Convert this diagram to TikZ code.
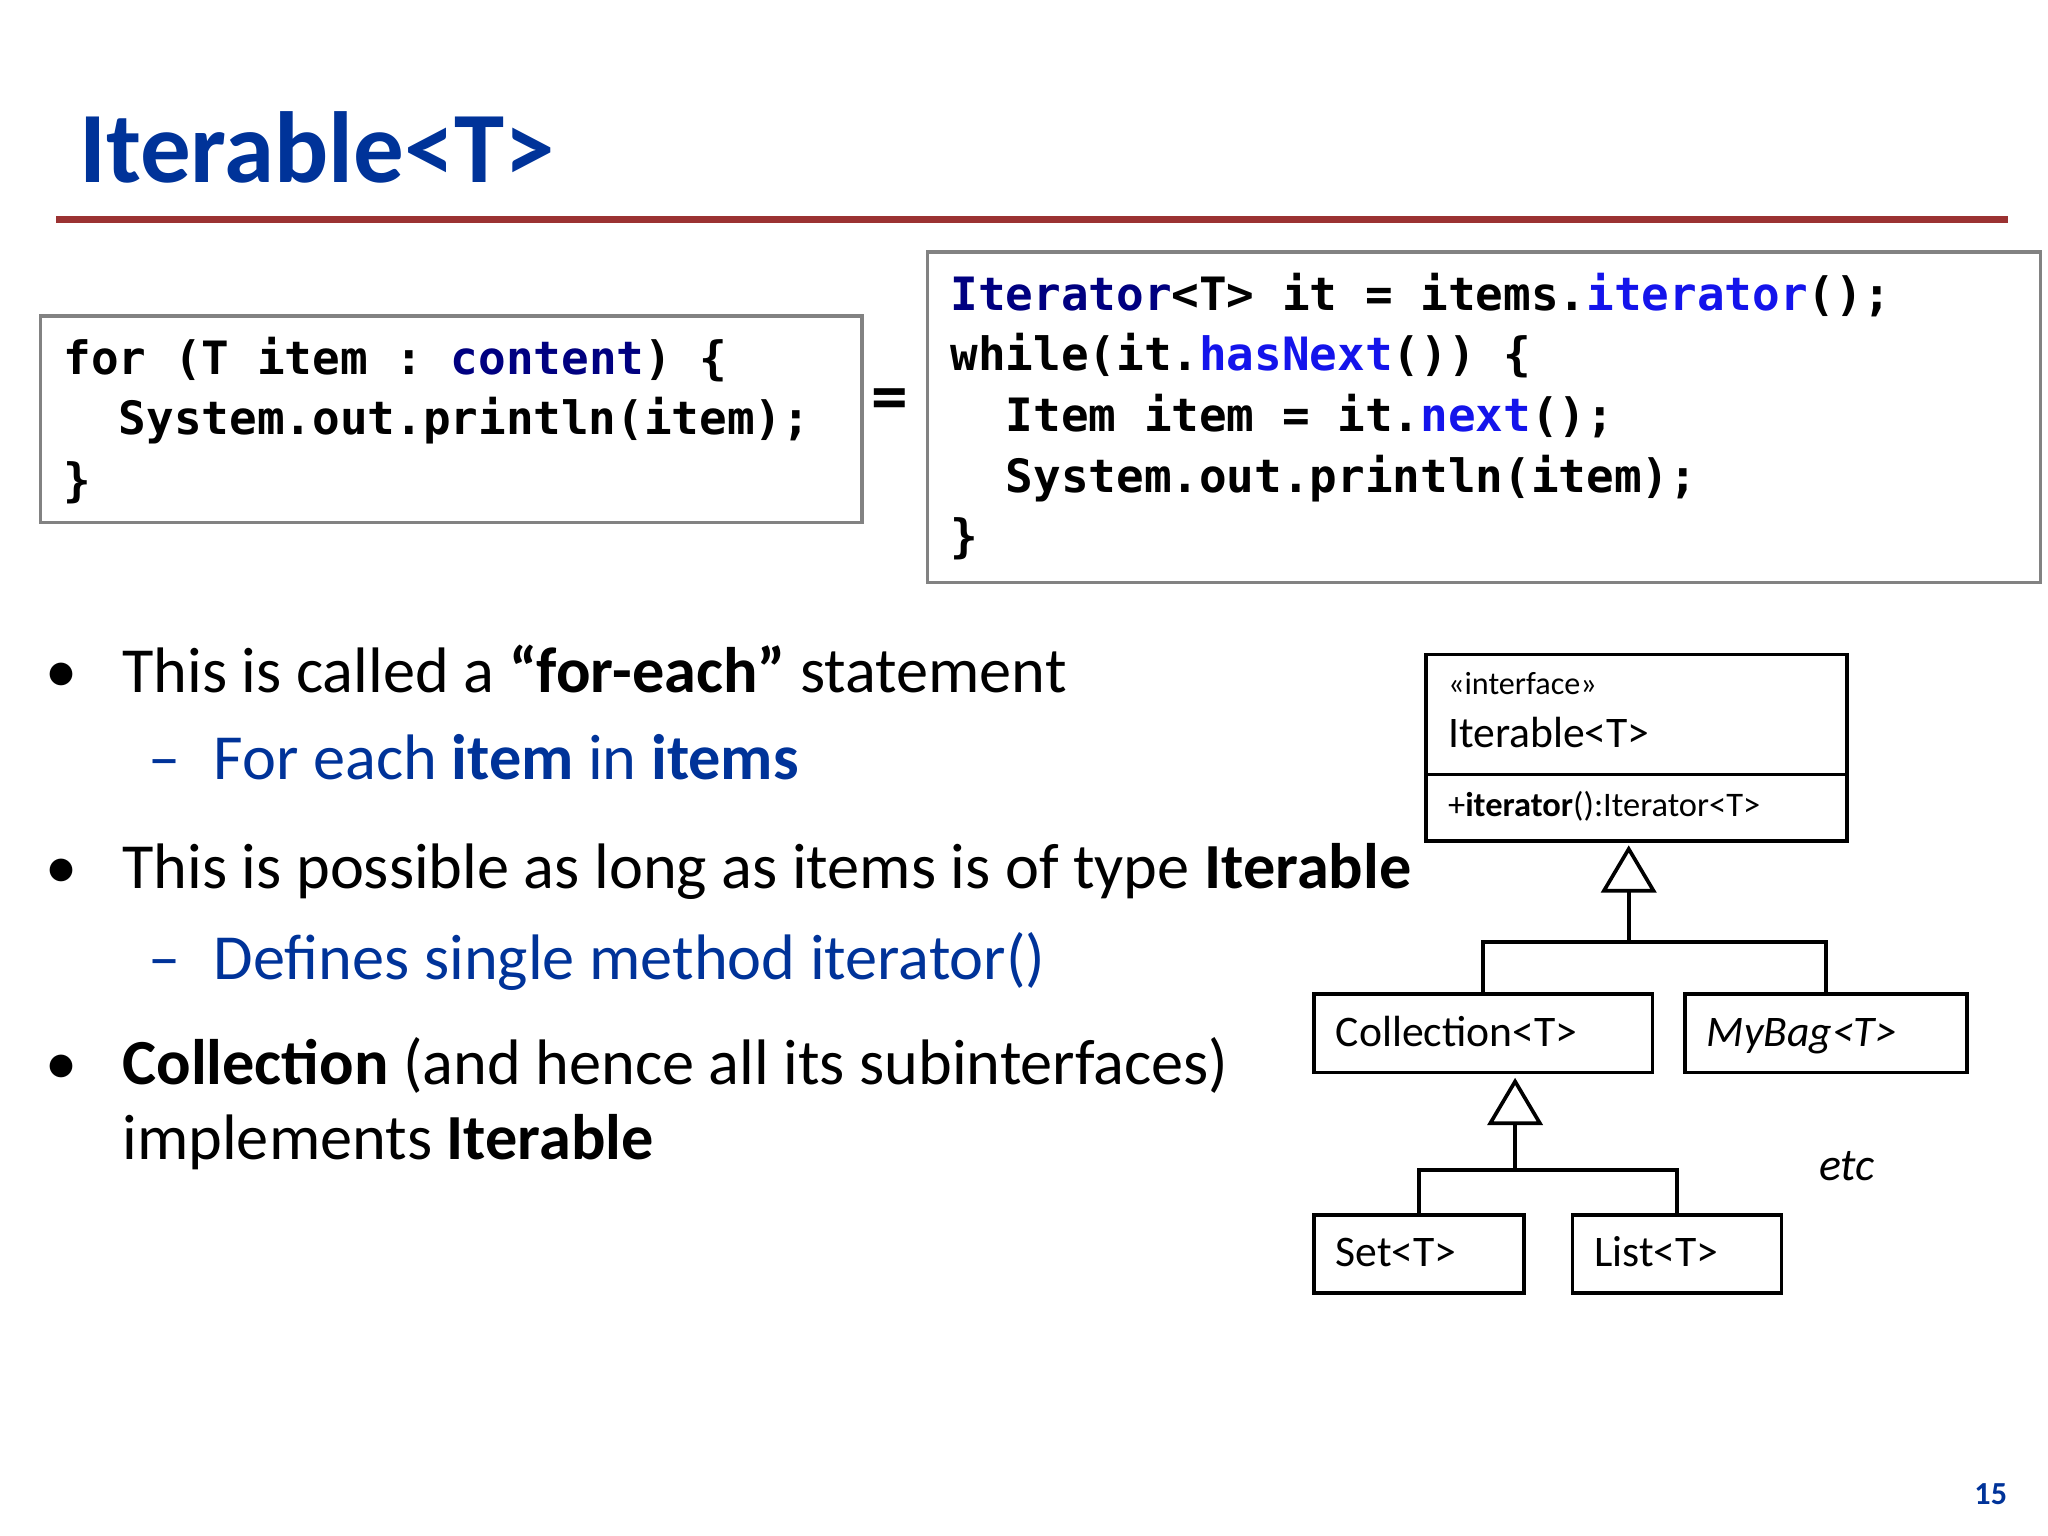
\documentclass[tikz,border=0pt]{standalone}
\usepackage{fontspec}
\setmainfont{Carlito}
\setmonofont{DejaVu Sans Mono}
\definecolor{ttl}{RGB}{0,51,153}
\definecolor{rl}{RGB}{155,50,50}
\definecolor{navy}{RGB}{0,0,128}
\definecolor{kw}{RGB}{20,20,235}
\definecolor{bx}{RGB}{130,130,130}
\begin{document}
\begin{tikzpicture}[x=0.01cm,y=-0.01cm,
  codebox/.style={draw=bx,line width=0.7pt},
  code/.style={anchor=base west,inner sep=0,font=\ttfamily\bfseries\fontsize{10}{12}\selectfont},
  txt/.style={anchor=base west,inner sep=0,font=\fontsize{14}{17}\selectfont},
  sub/.style={txt,text=ttl},
  uml/.style={draw,line width=0.8pt},
  umlt/.style={anchor=base west,inner sep=0,font=\fontsize{9.5}{11}\selectfont},
  tri/.style={draw,line width=0.8pt,fill=white}]
\useasboundingbox (0,0) rectangle (1568,1176);
\node[anchor=base west,inner sep=0,text=ttl,font=\bfseries\fontsize{22}{26}\selectfont] (title) at (60,140) {Iterable<T>};
\draw[rl,line width=1.7pt] (43,168) coordinate (r1) -- (1537,168) coordinate (r2);
% code boxes
\draw[codebox] (31,242) rectangle (660,400);
\node[code] (c1) at (48,287) {for (T item : \textcolor{navy}{content}) \{};
\node[code] (c2) at (48,333) {\ \ System.out.println(item);};
\node[code] (c3) at (48,380) {\}};
\node[inner sep=0,font=\bfseries\fontsize{16}{18}\selectfont] (eq) at (681,310) {=};
\draw[codebox] (710,193) rectangle (1562,446);
\node[code] (d1) at (727,238) {\textcolor{navy}{Iterator}<T> it = items.\textcolor{kw}{iterator}();};
\node[code] (d2) at (727,284) {while(it.\textcolor{kw}{hasNext}()) \{};
\node[code] (d3) at (727,330) {\ \ Item item = it.\textcolor{kw}{next}();};
\node[code] (d4) at (727,377) {\ \ System.out.println(item);};
\node[code] (d5) at (727,423) {\}};
% bullets
\foreach \y/\n in {530/b1,680/b2,830/b3}{\node[txt] (\n) at (34,\y) {•};}
\node[txt] (t1) at (93,530) {This is called a \textbf{“for-each”} statement};
\node[sub] (s1d) at (113,597) {–};
\node[sub] (s1) at (163,597) {For each \textbf{item} in \textbf{items}};
\node[txt] (t2) at (93,680) {This is possible as long as items is of type \textbf{Iterable}};
\node[sub] (s2d) at (113,750) {–};
\node[sub] (s2) at (163,750) {Defines single method iterator()};
\node[txt] (t3) at (93,830) {\textbf{Collection} (and hence all its subinterfaces)};
\node[txt] (t4) at (93,888) {implements \textbf{Iterable}};
% UML
\draw[uml] (1092,501) rectangle (1414,644);
\draw[uml] (1092,593) -- (1414,593);
\node[umlt,font=\fontsize{7}{8}\selectfont] (ii) at (1108,532) {<<interface>>};
\node[umlt] (itn) at (1108,572) {Iterable<T>};
\node[umlt,font=\fontsize{7.5}{9}\selectfont] (itm) at (1108,625) {+\textbf{iterator}():Iterator<T>};
\node[uml,minimum width=2.59cm,minimum height=0.6cm,inner sep=0] (coll) at (1135.5,791) {};
\node[umlt] at (1022,801) {Collection<T>};
\node[uml,minimum width=2.16cm,minimum height=0.6cm,inner sep=0] (bag) at (1398,791) {};
\node[umlt] at (1306,801) {\itshape MyBag<T>};
\node[uml,minimum width=1.61cm,minimum height=0.6cm,inner sep=0] (set) at (1086.5,960) {};
\node[umlt] at (1022,970) {Set<T>};
\node[uml,minimum width=1.60cm,minimum height=0.6cm,inner sep=0] (list) at (1284,960) {};
\node[umlt] at (1220,970) {List<T>};
\node[umlt,font=\itshape\fontsize{10}{12}\selectfont] (etc) at (1392,904) {etc};
% generalization 1
\draw[tri] (1247,650) -- (1228,682) -- (1266,682) -- cycle;
\draw[uml] (1247,682) -- (1247,721);
\draw[uml] (coll.north) |- (1247,721) -| (bag.north);
\draw[tri] (1160,828) -- (1141,860) -- (1179,860) -- cycle;
\draw[uml] (1160,860) -- (1160,896);
\draw[uml] (set.north) |- (1160,896) -| (list.north);
\node[anchor=base west,inner sep=0,text=ttl,font=\bfseries\fontsize{7}{8}\selectfont] (pg) at (1511,1152) {15};
\end{tikzpicture}
\end{document}
